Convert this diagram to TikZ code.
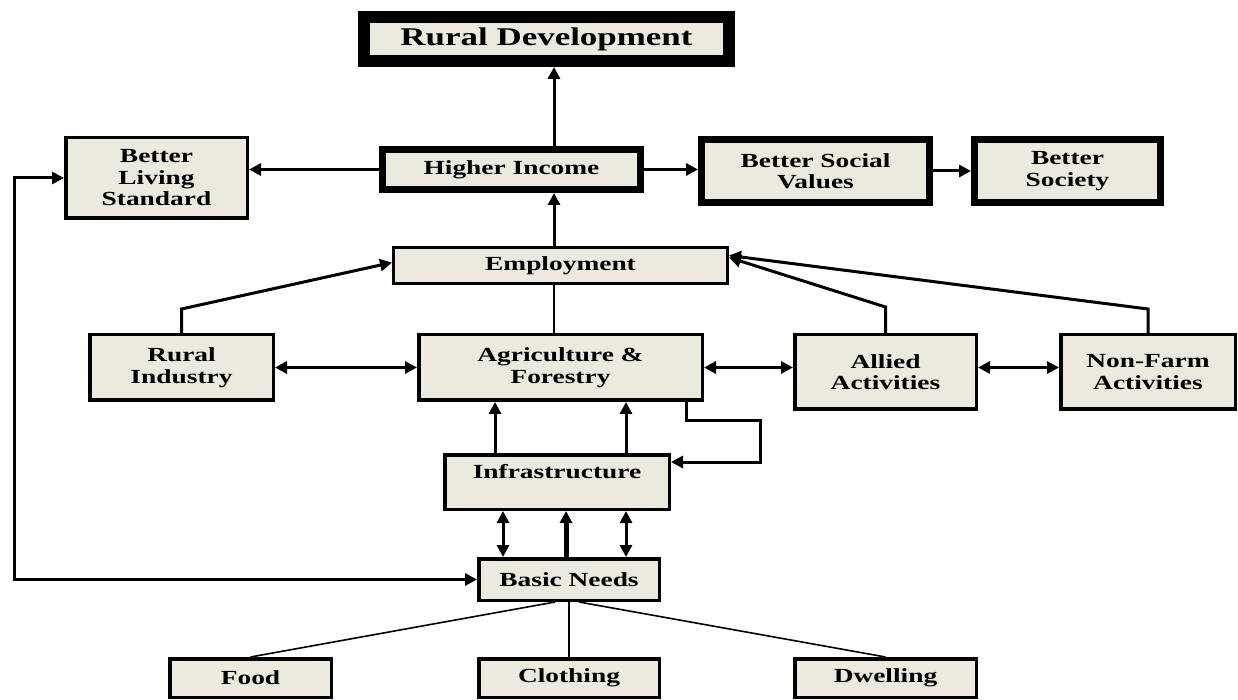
\documentclass[tikz,border=0pt]{standalone}
\usepackage{fontspec}
\setmainfont{Liberation Serif}[FakeStretch=1.37]
\usepackage{xcolor}
\usetikzlibrary{positioning, arrows.meta, calc}
\definecolor{boxfill}{HTML}{ECE9DE}

\begin{document}
\begin{tikzpicture}[
    x=1pt, y=1pt,
    >={Triangle[length=12pt, width=12pt]},
    box/.style={draw=black, fill=boxfill, line width=3.5pt, align=center, inner sep=0pt,
        font=\bfseries\fontsize{20}{21.5}\selectfont},
    heavybox/.style={box, line width=7pt},
    arrow/.style={->, line width=3pt},
    dblarrow/.style={<->, line width=3pt},
    thinline/.style={line width=1.6pt}
]
    \useasboundingbox (0,0) rectangle (1238,699);

    % Outcomes
    \node[box, line width=12pt, minimum width=365pt, minimum height=44pt,
          font=\bfseries\fontsize{25.5}{28}\selectfont] (ruraldev) at (546.5,660) {Rural Development};
    \node[heavybox, minimum width=258pt, minimum height=40pt] (income) at (511.5,529.5) {Higher Income};
    \node[box, minimum width=181.5pt, minimum height=80.5pt] (living) at (156.5,521) {Better\\Living\\Standard};
    \node[heavybox, minimum width=228pt, minimum height=63pt] (values) at (815.5,528) {Better Social\\Values};
    \node[heavybox, minimum width=186pt, minimum height=63pt, right=38pt of values] (society) {Better\\Society};

    % Sectors
    \node[box, line width=3pt, minimum width=334pt, minimum height=36pt] (employ) at (560.5,433.5) {Employment};
    \node[box, minimum width=183.5pt, minimum height=65.5pt] (industry) at (181.5,331.5) {Rural\\Industry};
    \node[box, minimum width=283.5pt, minimum height=65.5pt] (agri) at (560.5,331.5) {Agriculture \&\\Forestry};
    \node[box, minimum width=181.5pt, minimum height=74.5pt] (allied) at (885.5,327) {Allied\\Activities};
    \node[box, minimum width=174.5pt, minimum height=74.5pt, right=81pt of allied] (nonfarm) {Non-Farm\\Activities};
    \node[box, minimum width=224.5pt, minimum height=54.5pt] (infra) at (557,217) {Infrastructure\\\mbox{}};

    % Needs
    \node[box, minimum width=180.5pt, minimum height=41.5pt] (basic) at (569,119.5) {Basic Needs};
    \node[box, minimum width=180.5pt, minimum height=38.5pt, below=55pt of basic] (clothing) {Clothing};
    \node[box, minimum width=161.5pt, minimum height=38.5pt, left=144pt of clothing] (food) {Food};
    \node[box, minimum width=181.5pt, minimum height=38.5pt, right=132pt of clothing] (dwelling) {Dwelling};

    \coordinate (spine) at (554,0);
    \coordinate (leftrail) at (14,521);

    \draw[arrow] (income.north -| spine) -- (ruraldev.south -| spine);
    \draw[arrow] (employ.north -| spine) -- (income.south -| spine);
    \draw[arrow] (income.west) -- (income.west -| living.east);
    \draw[arrow] (income.east) -- (income.east -| values.west);
    \draw[arrow] (values) -- (society);

    \draw[arrow] (industry.north) -- ++(0,24) -- ([yshift=3pt]employ.west);
    \draw[arrow] (allied.north) -- ++(0,26) -- ([yshift=8pt]employ.east);
    \draw[arrow] (nonfarm.north) -- ++(0,24) -- ([yshift=10pt]employ.east);
    \draw[thinline] (employ.south -| spine) -- (agri.north -| spine);

    \draw[dblarrow] (industry) -- (agri);
    \draw[dblarrow] (agri.east) -- (agri.east -| allied.west);
    \draw[dblarrow] (allied.east |- agri.east) -- (nonfarm.west |- agri.east);

    % Infrastructure links
    \draw[arrow] ([xshift=-62pt]infra.north) -- ([xshift=-62pt]infra.north |- agri.south);
    \draw[arrow] ([xshift=69pt]infra.north) -- ([xshift=69pt]infra.north |- agri.south);
    \draw[arrow] ([xshift=125.5pt]agri.south) -- ++(0,-19) -| ([xshift=89pt, yshift=20pt]infra.east) -- ([yshift=20pt]infra.east);
    \draw[dblarrow] ([xshift=-66pt]basic.north) -- ([xshift=-66pt]basic.north |- infra.south);
    \draw[arrow, line width=5pt] ([xshift=-3pt]basic.north) -- ([xshift=-3pt]basic.north |- infra.south);
    \draw[dblarrow] ([xshift=57pt]basic.north) -- ([xshift=57pt]basic.north |- infra.south);

    \draw[dblarrow] (basic.west) -| (leftrail) -- (living.west);

    \draw[thinline] ([xshift=-14pt]basic.south) -- (food.north);
    \draw[thinline] (basic.south) -- (clothing.north);
    \draw[thinline] ([xshift=10pt]basic.south) -- (dwelling.north);

\end{tikzpicture}
\end{document}
